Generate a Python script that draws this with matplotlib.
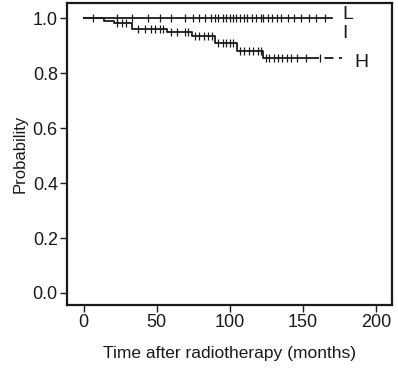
import matplotlib
matplotlib.use("Agg")
import matplotlib.pyplot as plt
import numpy as np

plt.rcParams["font.family"] = ["Liberation Sans", "DejaVu Sans"]

# L group: no events, only censoring
l_end = 170
l_censor = [6, 23, 33, 44, 52, 60, 69, 75, 79, 83, 87, 90, 92, 95, 97, 100,
            102, 104, 107, 110, 112, 115, 118, 121, 123, 126, 129, 132, 135,
            140, 144, 149, 154, 159, 165]

# H group: step survival (event times and survival after event)
h_times = [0, 14, 21, 33, 57, 74, 90, 105, 123]
h_surv = [1.0, 0.991, 0.982, 0.961, 0.949, 0.937, 0.910, 0.882, 0.856]
h_end = 177
h_tail_start = 155
h_censor = [23, 26, 29, 37, 42, 46, 49, 52, 54, 60, 64, 69, 71, 76, 79, 82,
            85, 88, 92, 95, 97, 100, 102, 107, 110, 113, 116, 119, 121, 125,
            127, 130, 133, 136, 139, 142, 146, 152, 162]

group_labels = ["L", "I", "H"]
label_pos = [(181, 1.014), (179, 0.946), (190, 0.841)]

xticks = [0, 50, 100, 150, 200]
yticks = [0.0, 0.2, 0.4, 0.6, 0.8, 1.0]


def surv_at(t, times, surv):
    idx = np.searchsorted(times, t, side="right") - 1
    return np.asarray(surv)[idx]


fig = plt.figure(figsize=(3.98, 3.74), dpi=100)
ax = fig.add_axes([0.168, 0.1845, 0.817, 0.8075])

col = "#1a1a1a"
# L curve
ax.plot([0, l_end], [1.0, 1.0], color=col, lw=1.3)
ax.plot(l_censor, np.ones(len(l_censor)), ls="none", marker="|", ms=6,
        mew=0.9, color=col)

# H curve (solid up to tail, dashed tail)
xs = list(h_times) + [h_tail_start]
ys = list(h_surv) + [h_surv[-1]]
ax.step(xs, ys, where="post", color=col, lw=1.3)
ax.plot([h_tail_start, h_end], [h_surv[-1]] * 2, color=col, lw=1.3,
        ls=(0, (5, 3)))
hc = np.array(h_censor)
ax.plot(hc, surv_at(hc, h_times, h_surv), ls="none", marker="|", ms=6,
        mew=0.9, color=col)

for lab, (x, y) in zip(group_labels, label_pos):
    ax.text(x, y, lab, fontsize=14, ha="center", va="center", color=col)

ax.set_xlim(-11.6, 211)
ax.set_ylim(-0.044, 1.056)
ax.set_xticks(xticks)
ax.set_yticks(yticks)
ax.set_yticklabels([f"{v:.1f}" for v in yticks])
ax.tick_params(direction="out", length=5, width=1.0, labelsize=13,
               colors=col, pad=1.5)
for sp in ax.spines.values():
    sp.set_linewidth(1.6)
    sp.set_color(col)

ax.set_xlabel("Time after radiotherapy (months)", fontsize=12.5, color=col,
              labelpad=11)
ax.set_ylabel("Probability", fontsize=12, color=col, labelpad=4)

fig.savefig("out.png", dpi=100)
